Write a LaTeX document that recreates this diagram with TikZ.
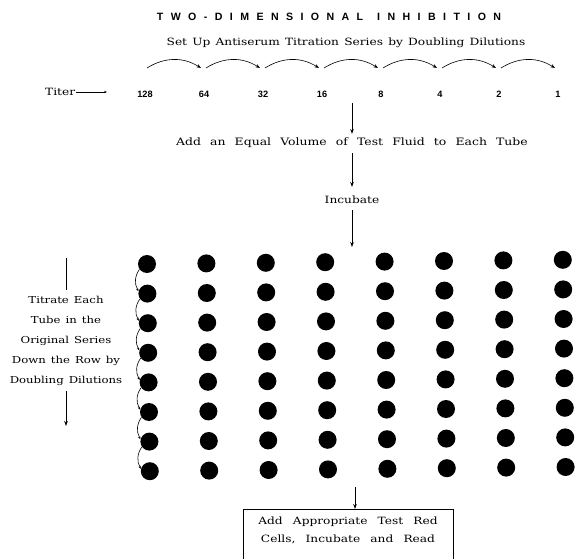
\documentclass[tikz,border=0pt]{standalone}
\usepackage{fontspec}
\setmainfont{DejaVu Serif}
\newfontfamily\typefont[FakeStretch=1.22]{DejaVu Serif}
\newfontfamily\headfont[LetterSpace=70]{Liberation Sans}
\newfontfamily\numfont{Liberation Sans}
\newcommand\stepfont{\typefont\fontsize{10}{12}\selectfont\spaceskip 5.2pt\relax}
\newcommand\widefont{\typefont\fontsize{10.2}{12}\selectfont\spaceskip 9.1pt\relax}
\newcommand\sidefont{\typefont\fontsize{9.6}{20.2}\selectfont\spaceskip 5pt\relax}
\newcommand\boxfont{\typefont\fontsize{10}{18}\selectfont\spaceskip 10.2pt\relax}
\usetikzlibrary{arrows.meta,positioning,calc}
\tikzset{
  headtxt/.style={font=\headfont\bfseries\fontsize{10.6}{12}\selectfont,inner sep=1pt},
  steptxt/.style={font=\stepfont,inner sep=1pt},
  widetxt/.style={font=\widefont,inner sep=1pt},
  numtxt/.style={font=\numfont\bfseries\fontsize{9.2}{11}\selectfont,inner sep=1pt},
  tube/.style={circle,fill=black,minimum size=18pt,inner sep=0pt},
  flowarrow/.style={-{Stealth[length=5pt,width=3.6pt]},line width=0.7pt},
  arcarrow/.style={-{Stealth[length=4.5pt,width=3.4pt]},line width=0.6pt},
  thinarrow/.style={-{Stealth[length=3pt,width=2.4pt]},line width=0.6pt},
}
\begin{document}
\begin{tikzpicture}[x=1pt,y=-1pt]
\useasboundingbox (0,0) rectangle (576,559);

% heading
\node[headtxt] (title) at (329,17) {TWO-DIMENSIONAL\hspace{14pt}INHIBITION};
\node[steptxt] (setup) at (346,43) {Set Up Antiserum Titration Series by Doubling Dilutions};

% titer row with doubling arcs
\node[steptxt, anchor=west] (titer) at (44,92) {Titer};
\coordinate (titend) at (107,92);
\draw[thinarrow] (titer) -- (titend);

\foreach \t [count=\i] in {128,64,32,16,8,4,2,1}
  \node[numtxt] (n\i) at ({145+59*(\i-1)},94) {\t};

\foreach \a/\b in {1/2,2/3,3/4,4/5,5/6,6/7,7/8}
  \draw[arcarrow] ([shift={(2,-26)}]n\a.center) to[bend left=32] ([shift={(-3,-26)}]n\b.center);

% centre column of steps
\coordinate (numbot) at (352,103);
\node[widetxt] (equal) at (352,143) {Add an Equal Volume of Test Fluid to Each Tube};
\node[steptxt] (incub) at (352,200) {Incubate};
\coordinate (gridtop) at (352,247);

\draw[flowarrow, shorten >=3pt] (numbot) -- (equal.north);
\draw[flowarrow, shorten <=4pt, shorten >=8pt] (equal) -- (incub);
\draw[flowarrow, shorten <=5pt] (incub) -- (gridtop);

% tube grid
\foreach \r in {1,...,8}
  \foreach \c in {1,...,8}
    \node[tube] (d\r-\c) at ({147+59.4*(\c-1)+0.4*(\r-1)},{264+29.6*(\r-1)-0.6*(\c-1)}) {};

\foreach \a/\b in {1/2,2/3,3/4,4/5,5/6,6/7,7/8}
  \draw[thinarrow] (d\a-1.215) to[bend right=32] (d\b-1.165);

% left-hand instruction
\coordinate (ltop) at (66,258);
\node[steptxt, align=center, font=\sidefont] (titrate) at (66,341)
  {Titrate Each\\Tube in the\\Original Series\\Down the Row by\\Doubling Dilutions};
\coordinate (lbot) at (66,426);
\draw[line width=0.7pt, shorten >=5pt] (ltop) -- (titrate.north);
\draw[flowarrow, shorten <=4pt] (titrate.south) -- (lbot);

% final step
\coordinate (gridbot) at (355,487);
\node[draw, line width=0.7pt, anchor=north, inner sep=0pt] (redbox) at (348,509)
  {\parbox[t][64pt][t]{210pt}{\centering\boxfont\vspace*{8pt}%
   Add Appropriate Test Red\\Cells, Incubate and Read}};
\draw[flowarrow] (gridbot) -- (gridbot |- redbox.north);

\end{tikzpicture}
\end{document}
